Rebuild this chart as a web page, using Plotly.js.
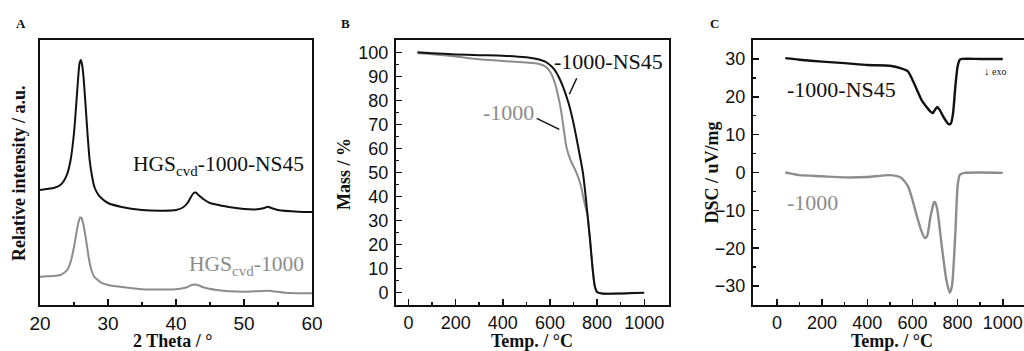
<!DOCTYPE html>
<html>
<head>
<meta charset="utf-8">
<script src="https://cdn.plot.ly/plotly-3.0.1.min.js"></script>
<style>
html,body{margin:0;padding:0;background:#fff;}
#chart{width:1024px;height:351px;}
</style>
</head>
<body>
<div id="chart"></div>
<script>
// ---- Panel A: XRD ----
const xrdTheta = [20,21,22,23,23.5,24,24.5,25,25.3,25.6,25.8,26,26.2,26.4,26.7,27,27.3,27.7,28,28.5,29,30,32,35,38,40,41,41.7,42.2,42.6,42.9,43.3,44,45,47,48,50,52,53,53.5,54,55,58,60];
const xrdNS45  = [115,116,117,120,124,131,145,172,198,226,241,245,240,228,200,170,145,127,118,111,107,102,98,95,94.3,95,97.5,102,108,112,112.5,110,106,102,99,97.7,96,95.7,97,98.3,97,95,93.3,93];
const xrdThetaG = [20,21,22,23,23.5,24,24.5,25,25.3,25.6,25.9,26.1,26.4,26.8,27.2,27.6,28,28.5,29,30,35,40,41.5,42.3,42.8,43.4,44,46,50,53.5,56,60];
const xrd1000  = [28.3,28.8,29,30,32,35,43,58,70,81,87.5,87,80,64,46,34,28,25,22.3,20,15.7,15.7,17.5,20,20.5,19.5,17.7,15,13.3,14.3,12.3,11.7];

// ---- Panel B: TGA ----
const tgaT_NS45 = [38,100,200,300,400,500,550,580,600,620,640,660,680,700,720,740,750,760,770,780,790,800,820,900,1000];
const tgaM_NS45 = [100,99.6,99.1,98.8,98.6,97.9,97.1,96.1,94.7,92.7,89.2,84.5,78.5,70.5,60.5,49.8,41.5,31.8,22.1,11,2.8,0.3,-0.3,-0.3,0];
const tgaT_1000 = [38,100,200,300,400,500,550,580,600,620,640,650,660,670,690,710,730,740,750,760,770,780,790,800,820,900,960];
const tgaM_1000 = [99.6,99.2,98.2,97.1,96.4,95.7,95.2,94.1,92,87.5,79.5,74,67,60.5,54.5,50.5,45,40.5,36,31.8,22.1,11,2.8,0.3,-0.3,-0.3,0];

// ---- Panel C: DSC ----
const dscT_NS45 = [37,100,200,300,400,500,550,580,600,620,640,660,680,690,700,710,720,740,760,770,780,790,800,810,820,900,1000];
const dscV_NS45 = [30.2,29.8,29.3,28.9,28.4,28.2,27.5,26.7,24.5,21.8,19.2,17.5,16.1,15.7,16.6,17.3,16.6,14.4,12.8,12.9,15.7,22.7,28,29.8,30,30,30];
const dscT_1000 = [37,80,100,200,300,400,500,550,580,600,620,640,655,665,680,695,700,710,730,750,765,775,790,800,810,830,900,1000];
const dscV_1000 = [0,-0.5,-0.7,-1,-1.3,-1.2,-0.7,-1.4,-3.6,-7.2,-11.6,-15.5,-17.3,-16.8,-11.6,-8,-7.8,-9.8,-19.5,-28.3,-31.8,-30,-16,-3.6,-0.6,-0.1,0,-0.1];

// ---- axis ranges and tick values ----
const rangeAx = [20, 60], rangeAy = [0, 265];
const rangeBx = [-53, 1105], rangeBy = [-5.1, 105.1];
const rangeCx = [-106, 1094], rangeCy = [-35, 35];
const ticksAx = [20, 30, 40, 50, 60], minorAx = [25, 35, 45, 55];
const ticksT = [0, 200, 400, 600, 800, 1000], minorT = [100, 300, 500, 700, 900];
const ticksBy = [0, 10, 20, 30, 40, 50, 60, 70, 80, 90, 100], minorBy = [5, 15, 25, 35, 45, 55, 65, 75, 85, 95];
const ticksCy = [-30, -20, -10, 0, 10, 20, 30], minorCy = [-25, -15, -5, 5, 15, 25];

const labelA1 = 'HGS<sub>cvd</sub>-1000-NS45';
const labelA2 = 'HGS<sub>cvd</sub>-1000';
const labelNS45 = '-1000-NS45';
const label1000 = '-1000';

const BLACK = '#111111', GRAY = '#8c8c8c', LINE = '#111111';
const W = 1024, H = 351;
const px = x => x / W, py = y => 1 - y / H;
const TOP = 40, BOT = 305;
const domA = [40, 312], domB = [396, 669], domC = [753, 1024];

const sp = {shape:'spline', smoothing:0.6};
const traces = [
  {x: xrdTheta, y: xrdNS45, xaxis:'x', yaxis:'y', mode:'lines', line:Object.assign({color:BLACK, width:2}, sp)},
  {x: xrdThetaG, y: xrd1000, xaxis:'x', yaxis:'y', mode:'lines', line:Object.assign({color:GRAY, width:2}, sp)},
  {x: tgaT_1000, y: tgaM_1000, xaxis:'x2', yaxis:'y2', mode:'lines', line:Object.assign({color:GRAY, width:2}, sp)},
  {x: tgaT_NS45, y: tgaM_NS45, xaxis:'x2', yaxis:'y2', mode:'lines', line:Object.assign({color:BLACK, width:2}, sp)},
  {x: dscT_NS45, y: dscV_NS45, xaxis:'x3', yaxis:'y3', mode:'lines', line:Object.assign({color:BLACK, width:2.4}, sp)},
  {x: dscT_1000, y: dscV_1000, xaxis:'x3', yaxis:'y3', mode:'lines', line:Object.assign({color:GRAY, width:2.4}, sp)}
];

const tickFont = {family:'Liberation Sans, Arial, sans-serif', size:19, color:'#111111'};
const tickFontS = {family:'Liberation Sans, Arial, sans-serif', size:18, color:'#111111'};
const yDom = [py(BOT), py(TOP)];
const axBase = {showline:true, linecolor:LINE, linewidth:2, showgrid:false, zeroline:false,
  ticks:'inside', ticklen:6, tickwidth:1.5, tickcolor:LINE, tickfont:tickFont, fixedrange:true};
const minorBase = {ticks:'inside', ticklen:3, tickcolor:LINE, tickwidth:1.5, showgrid:false};

const layout = {
  width: W, height: H, margin:{l:0,r:0,t:0,b:0, pad:0}, showlegend:false, autosize:false,
  paper_bgcolor:'#ffffff', plot_bgcolor:'#ffffff',
  xaxis: Object.assign({}, axBase, {domain:[px(domA[0]), px(domA[1])], range:rangeAx, tickvals:ticksAx, anchor:'y', mirror:true,
    minor:Object.assign({tickvals:minorAx}, minorBase)}),
  yaxis: Object.assign({}, axBase, {domain:yDom, range:rangeAy, showticklabels:false, ticks:'', anchor:'x', mirror:true}),
  xaxis2: Object.assign({}, axBase, {domain:[px(domB[0]), px(domB[1])], range:rangeBx, tickvals:ticksT, anchor:'y2', mirror:true, tickfont:tickFontS,
    minor:Object.assign({tickvals:minorT}, minorBase)}),
  yaxis2: Object.assign({}, axBase, {domain:yDom, range:rangeBy, tickvals:ticksBy, anchor:'x2', mirror:true, ticklabelstandoff:2, tickfont:tickFontS,
    minor:Object.assign({tickvals:minorBy}, minorBase)}),
  xaxis3: Object.assign({}, axBase, {domain:[px(domC[0]), 1], range:rangeCx, tickvals:ticksT, anchor:'y3', mirror:true, tickfont:tickFontS,
    minor:Object.assign({tickvals:minorT}, minorBase)}),
  yaxis3: Object.assign({}, axBase, {domain:yDom, range:rangeCy, tickvals:ticksCy, anchor:'x3', mirror:false, ticklabelstandoff:2, tickfont:tickFontS,
    minor:Object.assign({tickvals:minorCy}, minorBase)}),
  shapes: [
    {type:'line', xref:'paper', yref:'paper', x0:px(576.7), y0:py(78.3), x1:px(569.3), y1:py(94.3), line:{color:BLACK, width:1.5}},
    {type:'line', xref:'paper', yref:'paper', x0:px(536.7), y0:py(118.3), x1:px(559.3), y1:py(129.3), line:{color:BLACK, width:1.5}}
  ],
  annotations: []
};

const serif = 'Liberation Serif, Times New Roman, serif';
function ann(text, x, y, opts) {
  layout.annotations.push(Object.assign({text:text, xref:'paper', yref:'paper', x:px(x), y:py(y), showarrow:false,
    xanchor:'center', yanchor:'middle', font:{family:serif, size:22, color:BLACK}}, opts || {}));
}
const titleFont = {family:serif, size:18, color:BLACK};
ann('<b>A</b>', 21, 23, {font:{family:serif, size:13, color:BLACK}});
ann('<b>B</b>', 345.5, 23, {font:{family:serif, size:13, color:BLACK}});
ann('<b>C</b>', 714.5, 23, {font:{family:serif, size:13, color:BLACK}});
ann('<b>2 Theta / °</b>', 172, 341, {font:titleFont});
ann('<b>Relative intensity / a.u.</b>', 19, 173, {textangle:-90, font:titleFont});
ann('<b>Temp. / °C</b>', 532, 341, {font:titleFont});
ann('<b>Mass / %</b>', 344, 174, {textangle:-90, font:titleFont});
ann('<b>Temp. / °C</b>', 892, 341, {font:titleFont});
ann('<b>DSC / uV/mg</b>', 711, 172.5, {textangle:-90, font:titleFont});
ann(labelA1, 306, 166, {xanchor:'right', font:{family:serif, size:21.5, color:BLACK}});
ann(labelA2, 306, 265, {xanchor:'right', font:{family:serif, size:21.5, color:GRAY}});
ann(labelNS45, 552, 61, {xanchor:'left'});
ann(label1000, 481, 112, {xanchor:'left', font:{family:serif, size:22, color:GRAY}});
ann(labelNS45, 785, 89, {xanchor:'left'});
ann(label1000, 785, 202, {xanchor:'left', font:{family:serif, size:22, color:GRAY}});
ann('↓', 987, 71, {font:{family:serif, size:11, color:BLACK}});
ann('exo', 990, 71, {xanchor:'left', font:{family:serif, size:10, color:BLACK}});

Plotly.newPlot('chart', traces, layout, {displayModeBar:false, staticPlot:true});
</script>
</body>
</html>
